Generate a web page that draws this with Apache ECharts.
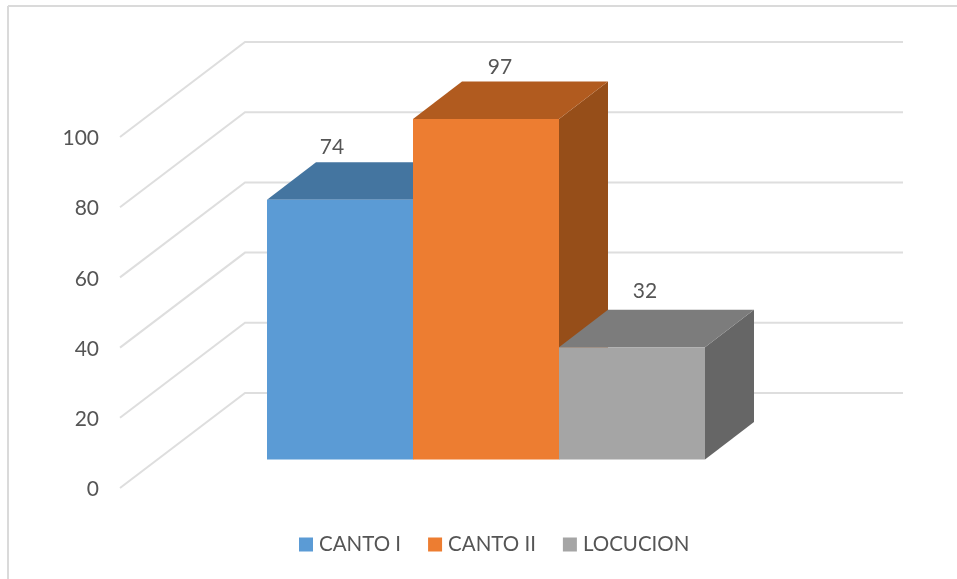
<!DOCTYPE html>
<html>
<head>
<meta charset="utf-8">
<style>html,body{margin:0;padding:0;background:#fff}#c{width:957px;height:579px;filter:blur(0.5px)}</style>
<script src="https://cdn.jsdelivr.net/npm/echarts@6/dist/echarts.min.js"></script>
</head>
<body>
<div id="c"></div>
<script>
var categories = ['CANTO I', 'CANTO II', 'LOCUCION'];
var values = [74, 97, 32];
var yTicks = [0, 20, 40, 60, 80, 100];

var frontColors = ['#5B9BD5', '#ED7D31', '#A5A5A5'];
var topColors = ['#4475A0', '#B15B1F', '#7C7C7C'];
var sideColors = ['#3F6C94', '#964E19', '#666666'];
var labelShiftX = [-8, 14, 13];
var labelShiftY = [-15, -14, -18];

var FONT = 'Lato, "Open Sans", sans-serif';
var TEXT = '#555555';
var DEPTH_X = 49, DEPTH_Y = 37.5, BASE_LIFT = 30, WALL_LIFT = 1.5;

function cuboid(i) {
  return function (params, api) {
    var p = api.coord([api.value(0), api.value(1)]);
    var base = api.coord([api.value(0), 0]);
    var w = api.size([1, 0])[0];
    var x0 = p[0] - w / 2, x1 = p[0] + w / 2;
    var yT = p[1] - BASE_LIFT, yB = base[1] - BASE_LIFT;
    return {
      type: 'group',
      children: [
        { type: 'polygon', shape: { points: [[x1, yT], [x1 + DEPTH_X, yT - DEPTH_Y], [x1 + DEPTH_X, yB - DEPTH_Y], [x1, yB]] }, style: { fill: sideColors[i] } },
        { type: 'polygon', shape: { points: [[x0, yT], [x0 + DEPTH_X, yT - DEPTH_Y], [x1 + DEPTH_X, yT - DEPTH_Y], [x1, yT]] }, style: { fill: topColors[i] } },
        { type: 'rect', shape: { x: x0, y: yT, width: w, height: yB - yT }, style: { fill: frontColors[i] } },
        { type: 'text', style: { x: p[0] + labelShiftX[i], y: yT - DEPTH_Y + labelShiftY[i], text: String(api.value(1)), fill: TEXT, font: '21px ' + FONT, align: 'center', verticalAlign: 'middle' } }
      ]
    };
  };
}

function wallLine(params, api) {
  var g = params.coordSys;
  var y = api.coord([0, api.value(1)])[1] - WALL_LIFT;
  return {
    type: 'polyline',
    shape: { points: [[g.x - 147, y], [g.x - 22, y - 95], [g.x + 636, y - 95]] },
    style: { fill: 'none', stroke: '#DEDEDE', lineWidth: 2 }
  };
}

var series = [{
  type: 'custom', name: 'walls', silent: true, renderItem: wallLine, z: 1,
  data: yTicks.map(function (v) { return [0, v]; }), encode: { x: 0, y: 1 }
}];
categories.forEach(function (name, i) {
  series.push({
    type: 'custom', name: name, z: 2 + i, renderItem: cuboid(i),
    itemStyle: { color: frontColors[i] },
    data: [[i, values[i]]], encode: { x: 0, y: 1 }
  });
});

var chart = echarts.init(document.getElementById('c'), null, { renderer: 'canvas' });
chart.setOption({
  animation: false,
  backgroundColor: '#fff',
  grid: { left: 267, width: 438, top: 138.5, height: 351 },
  xAxis: { type: 'category', data: categories, show: false },
  yAxis: {
    type: 'value', min: 0, max: 100, interval: 20, offset: 160,
    axisLine: { show: false }, axisTick: { show: false }, splitLine: { show: false },
    axisLabel: { color: TEXT, fontFamily: FONT, fontSize: 21, margin: 8 }
  },
  legend: {
    left: 299, top: 534, padding: 0, itemWidth: 14, itemHeight: 14, itemGap: 27, icon: 'rect',
    data: categories, selectedMode: false,
    textStyle: { color: TEXT, fontFamily: FONT, fontSize: 20.5, padding: [0, 0, 0, 1] }
  },
  graphic: [
    { type: 'line', shape: { x1: 8, y1: 6, x2: 8, y2: 579 }, style: { stroke: '#DADADA', lineWidth: 2 } },
    { type: 'line', shape: { x1: 8, y1: 6, x2: 957, y2: 6 }, style: { stroke: '#DADADA', lineWidth: 2 } }
  ],
  series: series
});
</script>
</body>
</html>
